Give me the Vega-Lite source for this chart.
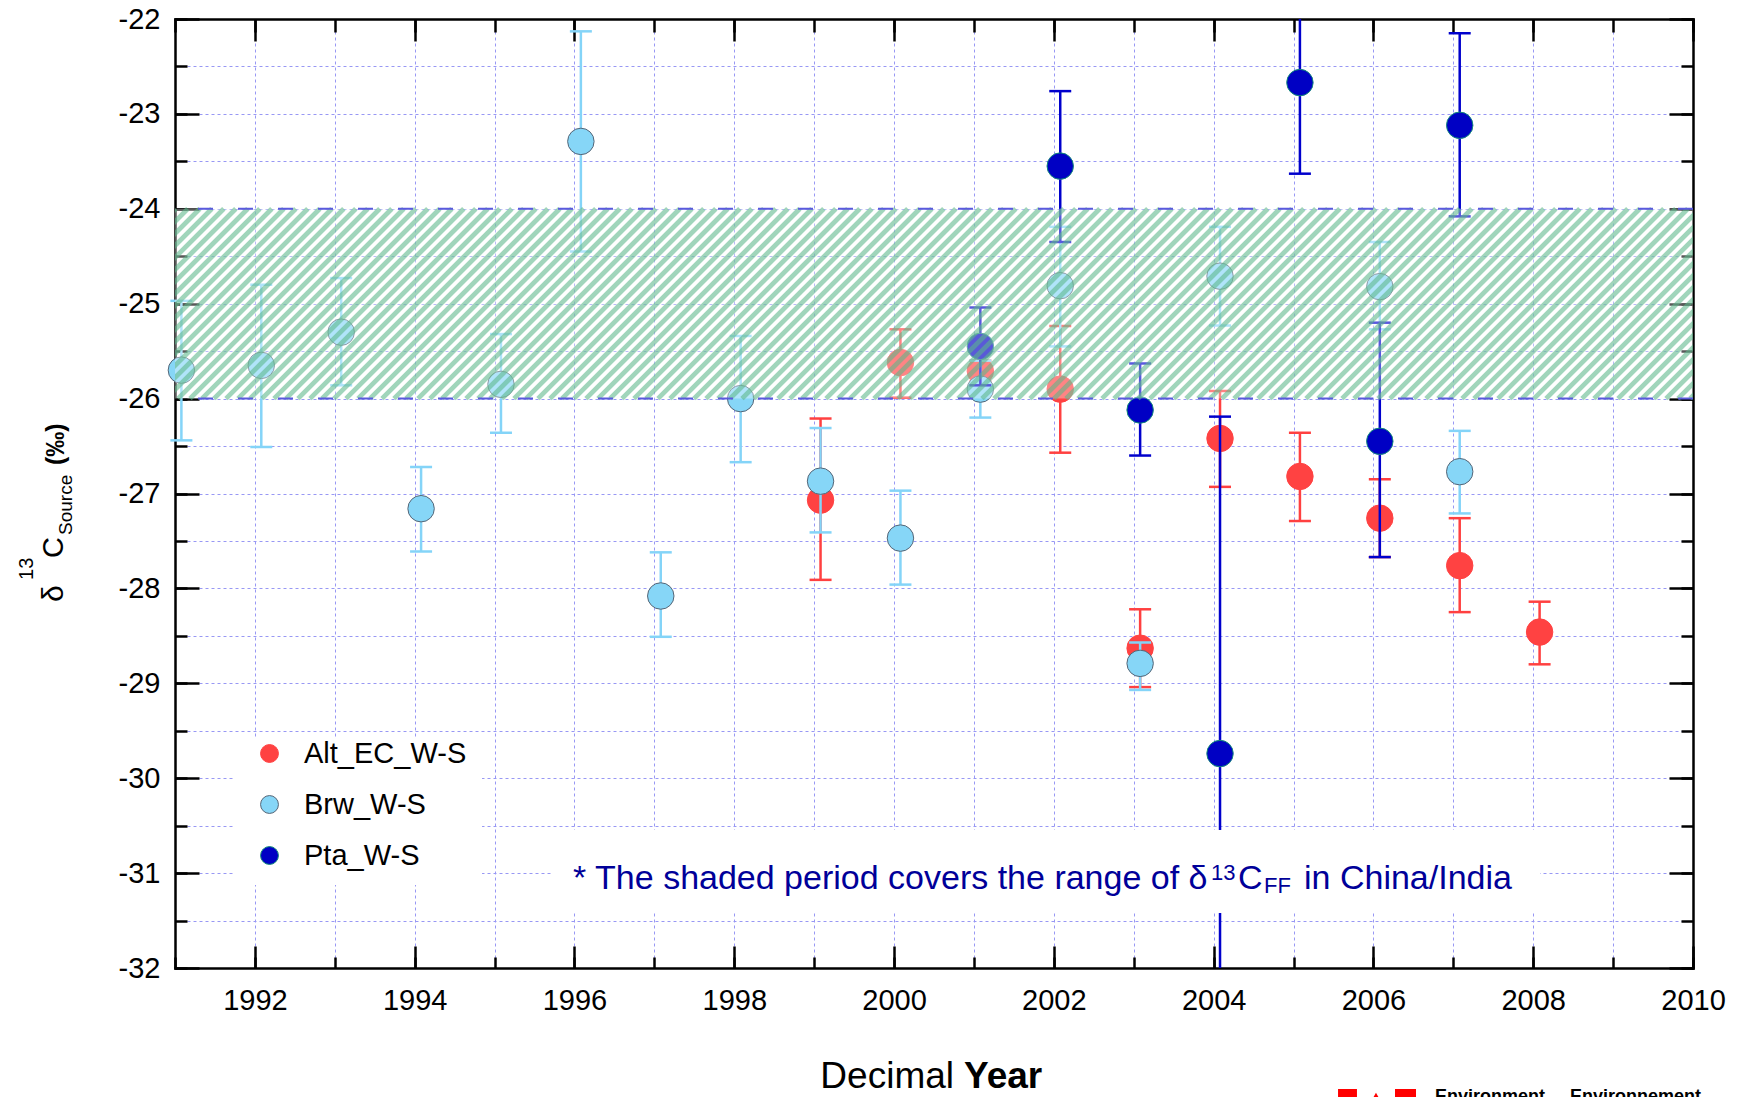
{
  "$schema": "https://vega.github.io/schema/vega-lite/v6.json",
  "width": 1518,
  "height": 949,
  "autosize": {"type": "none"},
  "padding": {"left": 175, "top": 19, "right": 53, "bottom": 129},
  "background": "white",
  "config": {
    "view": {"stroke": null},
    "font": "Liberation Sans",
    "axis": {
      "domainColor": "#000000", "domainWidth": 2.5, "domainCap": "square",
      "tickColor": "#000000", "tickWidth": 2.5,
      "labelFont": "Liberation Sans", "labelFontSize": 29, "labelColor": "#000000",
      "gridColor": "#9898f4", "gridDash": [3, 3], "gridWidth": 1, "gridOpacity": 1,
      "labelFlush": false, "labelOverlap": false, "zindex": 0
    }
  },
  "datasets": {
    "obs": [
      {"series": "Alt_EC_W-S", "year": 1999.08, "value": -27.07, "hi": -26.21, "lo": -27.91},
      {"series": "Alt_EC_W-S", "year": 2000.08, "value": -25.62, "hi": -25.27, "lo": -25.99},
      {"series": "Alt_EC_W-S", "year": 2001.08, "value": -25.71, "hi": -25.6, "lo": -25.82},
      {"series": "Alt_EC_W-S", "year": 2002.08, "value": -25.9, "hi": -25.235, "lo": -26.57},
      {"series": "Alt_EC_W-S", "year": 2003.08, "value": -28.63, "hi": -28.22, "lo": -29.04},
      {"series": "Alt_EC_W-S", "year": 2004.08, "value": -26.42, "hi": -25.92, "lo": -26.93},
      {"series": "Alt_EC_W-S", "year": 2005.08, "value": -26.82, "hi": -26.36, "lo": -27.29},
      {"series": "Alt_EC_W-S", "year": 2006.08, "value": -27.26, "hi": -26.85, "lo": -27.67},
      {"series": "Alt_EC_W-S", "year": 2007.08, "value": -27.76, "hi": -27.26, "lo": -28.25},
      {"series": "Alt_EC_W-S", "year": 2008.08, "value": -28.46, "hi": -28.14, "lo": -28.8},
      {"series": "Brw_W-S", "year": 1991.08, "value": -25.7, "hi": -24.97, "lo": -26.44},
      {"series": "Brw_W-S", "year": 1992.08, "value": -25.65, "hi": -24.8, "lo": -26.51},
      {"series": "Brw_W-S", "year": 1993.08, "value": -25.3, "hi": -24.73, "lo": -25.86},
      {"series": "Brw_W-S", "year": 1994.08, "value": -27.16, "hi": -26.72, "lo": -27.61},
      {"series": "Brw_W-S", "year": 1995.08, "value": -25.85, "hi": -25.32, "lo": -26.36},
      {"series": "Brw_W-S", "year": 1996.08, "value": -23.29, "hi": -22.13, "lo": -24.45},
      {"series": "Brw_W-S", "year": 1997.08, "value": -28.08, "hi": -27.62, "lo": -28.51},
      {"series": "Brw_W-S", "year": 1998.08, "value": -26.0, "hi": -25.34, "lo": -26.67},
      {"series": "Brw_W-S", "year": 1999.08, "value": -26.87, "hi": -26.31, "lo": -27.41},
      {"series": "Brw_W-S", "year": 2000.08, "value": -27.47, "hi": -26.97, "lo": -27.96},
      {"series": "Brw_W-S", "year": 2001.08, "value": -25.9, "hi": -25.6, "lo": -26.2},
      {"series": "Brw_W-S", "year": 2002.08, "value": -24.81, "hi": -24.19, "lo": -25.45},
      {"series": "Brw_W-S", "year": 2003.08, "value": -28.79, "hi": -28.57, "lo": -29.07},
      {"series": "Brw_W-S", "year": 2004.08, "value": -24.71, "hi": -24.19, "lo": -25.23},
      {"series": "Brw_W-S", "year": 2006.08, "value": -24.82, "hi": -24.35, "lo": -25.27},
      {"series": "Brw_W-S", "year": 2007.08, "value": -26.77, "hi": -26.34, "lo": -27.21},
      {"series": "Pta_W-S", "year": 2001.08, "value": -25.45, "hi": -25.04, "lo": -25.86},
      {"series": "Pta_W-S", "year": 2002.08, "value": -23.55, "hi": -22.76, "lo": -24.35},
      {"series": "Pta_W-S", "year": 2003.08, "value": -26.12, "hi": -25.63, "lo": -26.6},
      {"series": "Pta_W-S", "year": 2004.08, "value": -29.74, "hi": -26.19, "lo": -33.29},
      {"series": "Pta_W-S", "year": 2005.08, "value": -22.67, "hi": -21.7, "lo": -23.63},
      {"series": "Pta_W-S", "year": 2006.08, "value": -26.45, "hi": -25.2, "lo": -27.67},
      {"series": "Pta_W-S", "year": 2007.08, "value": -23.12, "hi": -22.15, "lo": -24.08}
    ]
  },
  "data": {"name": "obs"},
  "resolve": {"axis": {"x": "independent", "y": "independent"}},
  "layer": [
    {
      "transform": [{"filter": "datum.series === 'Alt_EC_W-S'"}],
      "mark": {"type": "rule", "color": "#ff4040", "strokeWidth": 2.5},
      "encoding": {
        "x": {"field": "year", "type": "quantitative", "scale": {"domain": [1991, 2010], "nice": false, "zero": false},
          "axis": {"orient": "bottom", "title": null, "values": [1992, 1994, 1996, 1998, 2000, 2002, 2004, 2006, 2008, 2010], "format": "d", "grid": false, "domain": true, "ticks": true, "tickSize": -22, "labels": true, "labelPadding": 40}},
        "y": {"field": "lo", "type": "quantitative", "scale": {"domain": [-32, -22], "nice": false, "zero": false},
          "axis": {"orient": "left", "title": null, "values": [-32, -31, -30, -29, -28, -27, -26, -25, -24, -23, -22], "labelExpr": "datum.value < 0 ? '-' + abs(datum.value) : '' + datum.value", "grid": false, "domain": true, "ticks": true, "tickSize": -24, "labels": true, "labelPadding": 39}},
        "y2": {"field": "hi"}
      }
    },
    {
      "transform": [{"filter": "datum.series === 'Alt_EC_W-S'"}],
      "mark": {"type": "tick", "orient": "horizontal", "color": "#ff4040", "size": 22, "thickness": 2.5, "opacity": 1},
      "encoding": {
        "x": {"field": "year", "type": "quantitative",
          "axis": {"orient": "bottom", "title": null, "values": [1991, 1992, 1993, 1994, 1995, 1996, 1997, 1998, 1999, 2000, 2001, 2002, 2003, 2004, 2005, 2006, 2007, 2008, 2009, 2010], "grid": true, "domain": false, "ticks": true, "tickSize": -11, "labels": false}},
        "y": {"field": "lo", "type": "quantitative",
          "axis": {"orient": "left", "title": null, "values": [-32, -31.5, -31, -30.5, -30, -29.5, -29, -28.5, -28, -27.5, -27, -26.5, -26, -25.5, -25, -24.5, -24, -23.5, -23, -22.5, -22], "grid": true, "domain": false, "ticks": true, "tickSize": -12, "labels": false}}
      }
    },
    {
      "transform": [{"filter": "datum.series === 'Alt_EC_W-S'"}],
      "mark": {"type": "tick", "orient": "horizontal", "color": "#ff4040", "size": 22, "thickness": 2.5, "opacity": 1},
      "encoding": {
        "x": {"field": "year", "type": "quantitative",
          "axis": {"orient": "top", "title": null, "values": [1992, 1994, 1996, 1998, 2000, 2002, 2004, 2006, 2008, 2010], "grid": false, "domain": true, "ticks": true, "tickSize": -22, "labels": false}},
        "y": {"field": "hi", "type": "quantitative",
          "axis": {"orient": "right", "title": null, "values": [-32, -31, -30, -29, -28, -27, -26, -25, -24, -23, -22], "grid": false, "domain": true, "ticks": true, "tickSize": -24, "labels": false}}
      }
    },
    {
      "transform": [{"filter": "datum.series === 'Alt_EC_W-S'"}],
      "mark": {"type": "point", "filled": true, "size": 700, "opacity": 1, "strokeWidth": 1},
      "encoding": {
        "x": {"field": "year", "type": "quantitative",
          "axis": {"orient": "top", "title": null, "values": [1991, 1992, 1993, 1994, 1995, 1996, 1997, 1998, 1999, 2000, 2001, 2002, 2003, 2004, 2005, 2006, 2007, 2008, 2009, 2010], "grid": false, "domain": false, "ticks": true, "tickSize": -13, "labels": false}},
        "y": {"field": "value", "type": "quantitative",
          "axis": {"orient": "right", "title": null, "values": [-32, -31.5, -31, -30.5, -30, -29.5, -29, -28.5, -28, -27.5, -27, -26.5, -26, -25.5, -25, -24.5, -24, -23.5, -23, -22.5, -22], "grid": false, "domain": false, "ticks": true, "tickSize": -12, "labels": false}},
        "color": {"field": "series", "type": "nominal",
          "scale": {"domain": ["Alt_EC_W-S", "Brw_W-S", "Pta_W-S"], "range": ["#ff4242", "#86d6f7", "#0000c4"]},
          "legend": {"title": null, "orient": "none", "legendX": 80, "legendY": 720, "padding": 0, "symbolType": "circle", "symbolSize": 320, "symbolStrokeWidth": 1, "symbolOpacity": 1, "labelFont": "Liberation Sans", "labelFontSize": 29, "labelColor": "#000000", "labelOffset": 20, "labelLimit": 0, "rowPadding": 21}},
        "stroke": {"field": "series", "type": "nominal",
          "scale": {"domain": ["Alt_EC_W-S", "Brw_W-S", "Pta_W-S"], "range": ["#ff4242", "#556677", "#138a7a"]},
          "legend": {"title": null, "orient": "none", "legendX": 80, "legendY": 720, "padding": 0, "symbolType": "circle", "symbolSize": 320, "symbolStrokeWidth": 1, "symbolOpacity": 1, "labelFont": "Liberation Sans", "labelFontSize": 29, "labelColor": "#000000", "labelOffset": 20, "labelLimit": 0, "rowPadding": 21}}
      }
    },
    {
      "transform": [{"filter": "datum.series === 'Brw_W-S'"}],
      "mark": {"type": "rule", "color": "#84d4f8", "strokeWidth": 2.5},
      "encoding": {
        "x": {"field": "year", "type": "quantitative", "axis": null},
        "y": {"field": "lo", "type": "quantitative", "axis": null},
        "y2": {"field": "hi"}
      }
    },
    {
      "transform": [{"filter": "datum.series === 'Brw_W-S'"}],
      "mark": {"type": "tick", "orient": "horizontal", "color": "#84d4f8", "size": 22, "thickness": 2.5, "opacity": 1},
      "encoding": {
        "x": {"field": "year", "type": "quantitative", "axis": null},
        "y": {"field": "lo", "type": "quantitative", "axis": null}
      }
    },
    {
      "transform": [{"filter": "datum.series === 'Brw_W-S'"}],
      "mark": {"type": "tick", "orient": "horizontal", "color": "#84d4f8", "size": 22, "thickness": 2.5, "opacity": 1},
      "encoding": {
        "x": {"field": "year", "type": "quantitative", "axis": null},
        "y": {"field": "hi", "type": "quantitative", "axis": null}
      }
    },
    {
      "transform": [{"filter": "datum.series === 'Brw_W-S'"}],
      "mark": {"type": "point", "filled": true, "size": 700, "opacity": 1, "strokeWidth": 1},
      "encoding": {
        "x": {"field": "year", "type": "quantitative", "axis": null},
        "y": {"field": "value", "type": "quantitative", "axis": null},
        "color": {"field": "series", "type": "nominal",
          "scale": {"domain": ["Alt_EC_W-S", "Brw_W-S", "Pta_W-S"], "range": ["#ff4242", "#86d6f7", "#0000c4"]},
          "legend": {"title": null, "orient": "none", "legendX": 80, "legendY": 720, "padding": 0, "symbolType": "circle", "symbolSize": 320, "symbolStrokeWidth": 1, "symbolOpacity": 1, "labelFont": "Liberation Sans", "labelFontSize": 29, "labelColor": "#000000", "labelOffset": 20, "labelLimit": 0, "rowPadding": 21}},
        "stroke": {"field": "series", "type": "nominal",
          "scale": {"domain": ["Alt_EC_W-S", "Brw_W-S", "Pta_W-S"], "range": ["#ff4242", "#556677", "#138a7a"]},
          "legend": {"title": null, "orient": "none", "legendX": 80, "legendY": 720, "padding": 0, "symbolType": "circle", "symbolSize": 320, "symbolStrokeWidth": 1, "symbolOpacity": 1, "labelFont": "Liberation Sans", "labelFontSize": 29, "labelColor": "#000000", "labelOffset": 20, "labelLimit": 0, "rowPadding": 21}}
      }
    },
    {
      "transform": [{"filter": "datum.series === 'Pta_W-S'"}],
      "mark": {"type": "rule", "color": "#0000cc", "strokeWidth": 2.5, "clip": true},
      "encoding": {
        "x": {"field": "year", "type": "quantitative", "axis": null},
        "y": {"field": "lo", "type": "quantitative", "axis": null},
        "y2": {"field": "hi"}
      }
    },
    {
      "transform": [{"filter": "datum.series === 'Pta_W-S'"}],
      "mark": {"type": "tick", "orient": "horizontal", "color": "#0000cc", "size": 22, "thickness": 2.5, "opacity": 1, "clip": true},
      "encoding": {
        "x": {"field": "year", "type": "quantitative", "axis": null},
        "y": {"field": "lo", "type": "quantitative", "axis": null}
      }
    },
    {
      "transform": [{"filter": "datum.series === 'Pta_W-S'"}],
      "mark": {"type": "tick", "orient": "horizontal", "color": "#0000cc", "size": 22, "thickness": 2.5, "opacity": 1, "clip": true},
      "encoding": {
        "x": {"field": "year", "type": "quantitative", "axis": null},
        "y": {"field": "hi", "type": "quantitative", "axis": null}
      }
    },
    {
      "transform": [{"filter": "datum.series === 'Pta_W-S'"}],
      "mark": {"type": "point", "filled": true, "size": 700, "opacity": 1, "strokeWidth": 1},
      "encoding": {
        "x": {"field": "year", "type": "quantitative", "axis": null},
        "y": {"field": "value", "type": "quantitative", "axis": null},
        "color": {"field": "series", "type": "nominal",
          "scale": {"domain": ["Alt_EC_W-S", "Brw_W-S", "Pta_W-S"], "range": ["#ff4242", "#86d6f7", "#0000c4"]},
          "legend": {"title": null, "orient": "none", "legendX": 80, "legendY": 720, "padding": 0, "symbolType": "circle", "symbolSize": 320, "symbolStrokeWidth": 1, "symbolOpacity": 1, "labelFont": "Liberation Sans", "labelFontSize": 29, "labelColor": "#000000", "labelOffset": 20, "labelLimit": 0, "rowPadding": 21}},
        "stroke": {"field": "series", "type": "nominal",
          "scale": {"domain": ["Alt_EC_W-S", "Brw_W-S", "Pta_W-S"], "range": ["#ff4242", "#556677", "#138a7a"]},
          "legend": {"title": null, "orient": "none", "legendX": 80, "legendY": 720, "padding": 0, "symbolType": "circle", "symbolSize": 320, "symbolStrokeWidth": 1, "symbolOpacity": 1, "labelFont": "Liberation Sans", "labelFontSize": 29, "labelColor": "#000000", "labelOffset": 20, "labelLimit": 0, "rowPadding": 21}}
      }
    },
    {
      "data": {"values": [{}]},
      "mark": {"type": "rect", "fill": "#ffffff", "opacity": 1},
      "encoding": {"x": {"datum": 1991.751, "axis": null}, "x2": {"datum": 1994.843}, "y": {"datum": -29.566, "axis": null}, "y2": {"datum": -31.125}}
    },
    {
      "data": {"values": [{}]},
      "mark": {"type": "rect", "fill": "#ffffff", "opacity": 1},
      "encoding": {"x": {"datum": 1995.731, "axis": null}, "x2": {"datum": 2008.085}, "y": {"datum": -30.546, "axis": null}, "y2": {"datum": -31.42}}
    },
    {
      "data": {"values": [{}]},
      "mark": {"type": "rect", "fill": "#ffffff", "opacity": 0.35},
      "encoding": {"x": {"datum": 1991, "axis": null}, "x2": {"datum": 2010}, "y": {"datum": -24, "axis": null}, "y2": {"datum": -26}}
    },
    {
      "data": {"values": [{}]},
      "mark": {"type": "point", "filled": false, "size": 40000, "stroke": "#5cb68a", "strokeWidth": 4.8, "strokeOpacity": 0.58, "opacity": 1, "strokeCap": "butt", "clip": true,
        "shape": "M-9.48,.949l1.898,-1.898m-1.778,1.898l1.898,-1.898m-1.778,1.898l1.898,-1.898m-1.778,1.898l1.898,-1.898m-1.778,1.898l1.898,-1.898m-1.778,1.898l1.898,-1.898m-1.778,1.898l1.898,-1.898m-1.778,1.898l1.898,-1.898m-1.778,1.898l1.898,-1.898m-1.778,1.898l1.898,-1.898m-1.778,1.898l1.898,-1.898m-1.778,1.898l1.898,-1.898m-1.778,1.898l1.898,-1.898m-1.778,1.898l1.898,-1.898m-1.778,1.898l1.898,-1.898m-1.778,1.898l1.898,-1.898m-1.778,1.898l1.898,-1.898m-1.778,1.898l1.898,-1.898m-1.778,1.898l1.898,-1.898m-1.778,1.898l1.898,-1.898m-1.778,1.898l1.898,-1.898m-1.778,1.898l1.898,-1.898m-1.778,1.898l1.898,-1.898m-1.778,1.898l1.898,-1.898m-1.778,1.898l1.898,-1.898m-1.778,1.898l1.898,-1.898m-1.778,1.898l1.898,-1.898m-1.778,1.898l1.898,-1.898m-1.778,1.898l1.898,-1.898m-1.778,1.898l1.898,-1.898m-1.778,1.898l1.898,-1.898m-1.778,1.898l1.898,-1.898m-1.778,1.898l1.898,-1.898m-1.778,1.898l1.898,-1.898m-1.778,1.898l1.898,-1.898m-1.778,1.898l1.898,-1.898m-1.778,1.898l1.898,-1.898m-1.778,1.898l1.898,-1.898m-1.778,1.898l1.898,-1.898m-1.778,1.898l1.898,-1.898m-1.778,1.898l1.898,-1.898m-1.778,1.898l1.898,-1.898m-1.778,1.898l1.898,-1.898m-1.778,1.898l1.898,-1.898m-1.778,1.898l1.898,-1.898m-1.778,1.898l1.898,-1.898m-1.778,1.898l1.898,-1.898m-1.778,1.898l1.898,-1.898m-1.778,1.898l1.898,-1.898m-1.778,1.898l1.898,-1.898m-1.778,1.898l1.898,-1.898m-1.778,1.898l1.898,-1.898m-1.778,1.898l1.898,-1.898m-1.778,1.898l1.898,-1.898m-1.778,1.898l1.898,-1.898m-1.778,1.898l1.898,-1.898m-1.778,1.898l1.898,-1.898m-1.778,1.898l1.898,-1.898m-1.778,1.898l1.898,-1.898m-1.778,1.898l1.898,-1.898m-1.778,1.898l1.898,-1.898m-1.778,1.898l1.898,-1.898m-1.778,1.898l1.898,-1.898m-1.778,1.898l1.898,-1.898m-1.778,1.898l1.898,-1.898m-1.778,1.898l1.898,-1.898m-1.778,1.898l1.898,-1.898m-1.778,1.898l1.898,-1.898m-1.778,1.898l1.898,-1.898m-1.778,1.898l1.898,-1.898m-1.778,1.898l1.898,-1.898m-1.778,1.898l1.898,-1.898m-1.778,1.898l1.898,-1.898m-1.778,1.898l1.898,-1.898m-1.778,1.898l1.898,-1.898m-1.778,1.898l1.898,-1.898m-1.778,1.898l1.898,-1.898m-1.778,1.898l1.898,-1.898m-1.778,1.898l1.898,-1.898m-1.778,1.898l1.898,-1.898m-1.778,1.898l1.898,-1.898m-1.778,1.898l1.898,-1.898m-1.778,1.898l1.898,-1.898m-1.778,1.898l1.898,-1.898m-1.778,1.898l1.898,-1.898m-1.778,1.898l1.898,-1.898m-1.778,1.898l1.898,-1.898m-1.778,1.898l1.898,-1.898m-1.778,1.898l1.898,-1.898m-1.778,1.898l1.898,-1.898m-1.778,1.898l1.898,-1.898m-1.778,1.898l1.898,-1.898m-1.778,1.898l1.898,-1.898m-1.778,1.898l1.898,-1.898m-1.778,1.898l1.898,-1.898m-1.778,1.898l1.898,-1.898m-1.778,1.898l1.898,-1.898m-1.778,1.898l1.898,-1.898m-1.778,1.898l1.898,-1.898m-1.778,1.898l1.898,-1.898m-1.778,1.898l1.898,-1.898m-1.778,1.898l1.898,-1.898m-1.778,1.898l1.898,-1.898m-1.778,1.898l1.898,-1.898m-1.778,1.898l1.898,-1.898m-1.778,1.898l1.898,-1.898m-1.778,1.898l1.898,-1.898m-1.778,1.898l1.898,-1.898m-1.778,1.898l1.898,-1.898m-1.778,1.898l1.898,-1.898m-1.778,1.898l1.898,-1.898m-1.778,1.898l1.898,-1.898m-1.778,1.898l1.898,-1.898m-1.778,1.898l1.898,-1.898m-1.778,1.898l1.898,-1.898m-1.778,1.898l1.898,-1.898m-1.778,1.898l1.898,-1.898m-1.778,1.898l1.898,-1.898m-1.778,1.898l1.898,-1.898m-1.778,1.898l1.898,-1.898m-1.778,1.898l1.898,-1.898m-1.778,1.898l1.898,-1.898m-1.778,1.898l1.898,-1.898m-1.778,1.898l1.898,-1.898m-1.778,1.898l1.898,-1.898m-1.778,1.898l1.898,-1.898m-1.778,1.898l1.898,-1.898m-1.778,1.898l1.898,-1.898m-1.778,1.898l1.898,-1.898m-1.778,1.898l1.898,-1.898m-1.778,1.898l1.898,-1.898m-1.778,1.898l1.898,-1.898m-1.778,1.898l1.898,-1.898m-1.778,1.898l1.898,-1.898m-1.778,1.898l1.898,-1.898m-1.778,1.898l1.898,-1.898m-1.778,1.898l1.898,-1.898m-1.778,1.898l1.898,-1.898m-1.778,1.898l1.898,-1.898m-1.778,1.898l1.898,-1.898m-1.778,1.898l1.898,-1.898m-1.778,1.898l1.898,-1.898m-1.778,1.898l1.898,-1.898m-1.778,1.898l1.898,-1.898m-1.778,1.898l1.898,-1.898m-1.778,1.898l1.898,-1.898m-1.778,1.898l1.898,-1.898m-1.778,1.898l1.898,-1.898m-1.778,1.898l1.898,-1.898m-1.778,1.898l1.898,-1.898m-1.778,1.898l1.898,-1.898m-1.778,1.898"},
      "encoding": {"x": {"datum": 2000.5, "axis": null}, "y": {"datum": -25, "axis": null}}
    },
    {
      "data": {"values": [{"bound": -24}, {"bound": -26}]},
      "mark": {"type": "rule", "color": "#5a5adc", "strokeWidth": 2, "strokeDash": [15, 25]},
      "encoding": {"y": {"field": "bound", "type": "quantitative", "axis": null}}
    },
    {
      "data": {"values": [{}]},
      "mark": {"type": "text", "text": "δ", "font": "Liberation Sans", "fontSize": 30, "angle": 270, "align": "left", "baseline": "alphabetic", "color": "#000000"},
      "encoding": {"x": {"datum": 1989.598, "axis": null}, "y": {"datum": -28.143, "axis": null}}
    },
    {
      "data": {"values": [{}]},
      "mark": {"type": "text", "text": "13", "font": "Liberation Sans", "fontSize": 20, "angle": 270, "align": "left", "baseline": "alphabetic", "color": "#000000", "dx": 22, "dy": -30},
      "encoding": {"x": {"datum": 1989.598, "axis": null}, "y": {"datum": -28.143, "axis": null}}
    },
    {
      "data": {"values": [{}]},
      "mark": {"type": "text", "text": "C", "font": "Liberation Sans", "fontSize": 29, "angle": 270, "align": "left", "baseline": "alphabetic", "color": "#000000", "dx": 44, "dy": 0},
      "encoding": {"x": {"datum": 1989.598, "axis": null}, "y": {"datum": -28.143, "axis": null}}
    },
    {
      "data": {"values": [{}]},
      "mark": {"type": "text", "text": "Source", "font": "Liberation Sans", "fontSize": 19, "angle": 270, "align": "left", "baseline": "alphabetic", "color": "#000000", "dx": 67, "dy": 9},
      "encoding": {"x": {"datum": 1989.598, "axis": null}, "y": {"datum": -28.143, "axis": null}}
    },
    {
      "data": {"values": [{}]},
      "mark": {"type": "text", "text": "(‰)", "font": "Liberation Sans", "fontSize": 25, "fontWeight": "bold", "angle": 270, "align": "left", "baseline": "alphabetic", "color": "#000000", "dx": 137, "dy": 1},
      "encoding": {"x": {"datum": 1989.598, "axis": null}, "y": {"datum": -28.143, "axis": null}}
    },
    {
      "data": {"values": [{}]},
      "mark": {"type": "text", "text": "* The shaded period covers the range of δ", "font": "Liberation Sans", "fontSize": 34, "align": "left", "baseline": "alphabetic", "color": "#000099"},
      "encoding": {"x": {"datum": 1995.982, "axis": null}, "y": {"datum": -31.167, "axis": null}}
    },
    {
      "data": {"values": [{}]},
      "mark": {"type": "text", "text": "13", "font": "Liberation Sans", "fontSize": 22, "align": "left", "baseline": "alphabetic", "color": "#000099", "dx": 638, "dy": -9},
      "encoding": {"x": {"datum": 1995.982, "axis": null}, "y": {"datum": -31.167, "axis": null}}
    },
    {
      "data": {"values": [{}]},
      "mark": {"type": "text", "text": "C", "font": "Liberation Sans", "fontSize": 34, "align": "left", "baseline": "alphabetic", "color": "#000099", "dx": 665},
      "encoding": {"x": {"datum": 1995.982, "axis": null}, "y": {"datum": -31.167, "axis": null}}
    },
    {
      "data": {"values": [{}]},
      "mark": {"type": "text", "text": "FF", "font": "Liberation Sans", "fontSize": 22, "align": "left", "baseline": "alphabetic", "color": "#000099", "dx": 691, "dy": 4},
      "encoding": {"x": {"datum": 1995.982, "axis": null}, "y": {"datum": -31.167, "axis": null}}
    },
    {
      "data": {"values": [{}]},
      "mark": {"type": "text", "text": "in China/India", "font": "Liberation Sans", "fontSize": 34, "align": "left", "baseline": "alphabetic", "color": "#000099", "dx": 731},
      "encoding": {"x": {"datum": 1995.982, "axis": null}, "y": {"datum": -31.167, "axis": null}}
    },
    {
      "data": {"values": [{}]},
      "mark": {"type": "text", "text": "Decimal", "font": "Liberation Sans", "fontSize": 37, "align": "right", "baseline": "alphabetic", "color": "#000000", "dx": -5},
      "encoding": {"x": {"datum": 2000.813, "axis": null}, "y": {"datum": -33.265, "axis": null}}
    },
    {
      "data": {"values": [{}]},
      "mark": {"type": "text", "text": "Year", "font": "Liberation Sans", "fontSize": 37, "fontWeight": "bold", "align": "left", "baseline": "alphabetic", "color": "#000000", "dx": 5},
      "encoding": {"x": {"datum": 2000.813, "axis": null}, "y": {"datum": -33.265, "axis": null}}
    },
    {
      "data": {"values": [{}]},
      "mark": {"type": "text", "text": "Environment", "font": "Liberation Sans", "fontSize": 18, "fontWeight": "bold", "align": "left", "baseline": "alphabetic", "color": "#000000"},
      "encoding": {"x": {"datum": 2006.771, "axis": null}, "y": {"datum": -33.412, "axis": null}}
    },
    {
      "data": {"values": [{}]},
      "mark": {"type": "text", "text": "Environnement", "font": "Liberation Sans", "fontSize": 18, "fontWeight": "bold", "align": "left", "baseline": "alphabetic", "color": "#000000", "dx": 135},
      "encoding": {"x": {"datum": 2006.771, "axis": null}, "y": {"datum": -33.412, "axis": null}}
    },
    {
      "data": {"values": [{}]},
      "mark": {"type": "rect", "fill": "#ff0000"},
      "encoding": {"x": {"datum": 2005.557, "axis": null}, "x2": {"datum": 2005.794}, "y": {"datum": -33.275, "axis": null}, "y2": {"datum": -33.45}}
    },
    {
      "data": {"values": [{}]},
      "mark": {"type": "rect", "fill": "#ff0000"},
      "encoding": {"x": {"datum": 2006.27, "axis": null}, "x2": {"datum": 2006.533}, "y": {"datum": -33.275, "axis": null}, "y2": {"datum": -33.45}}
    },
    {
      "data": {"values": [{}]},
      "mark": {"type": "point", "shape": "triangle-up", "filled": true, "size": 90, "color": "#ff0000", "opacity": 1},
      "encoding": {"x": {"datum": 2006.032, "axis": null}, "y": {"datum": -33.359, "axis": null}}
    }
  ]
}
